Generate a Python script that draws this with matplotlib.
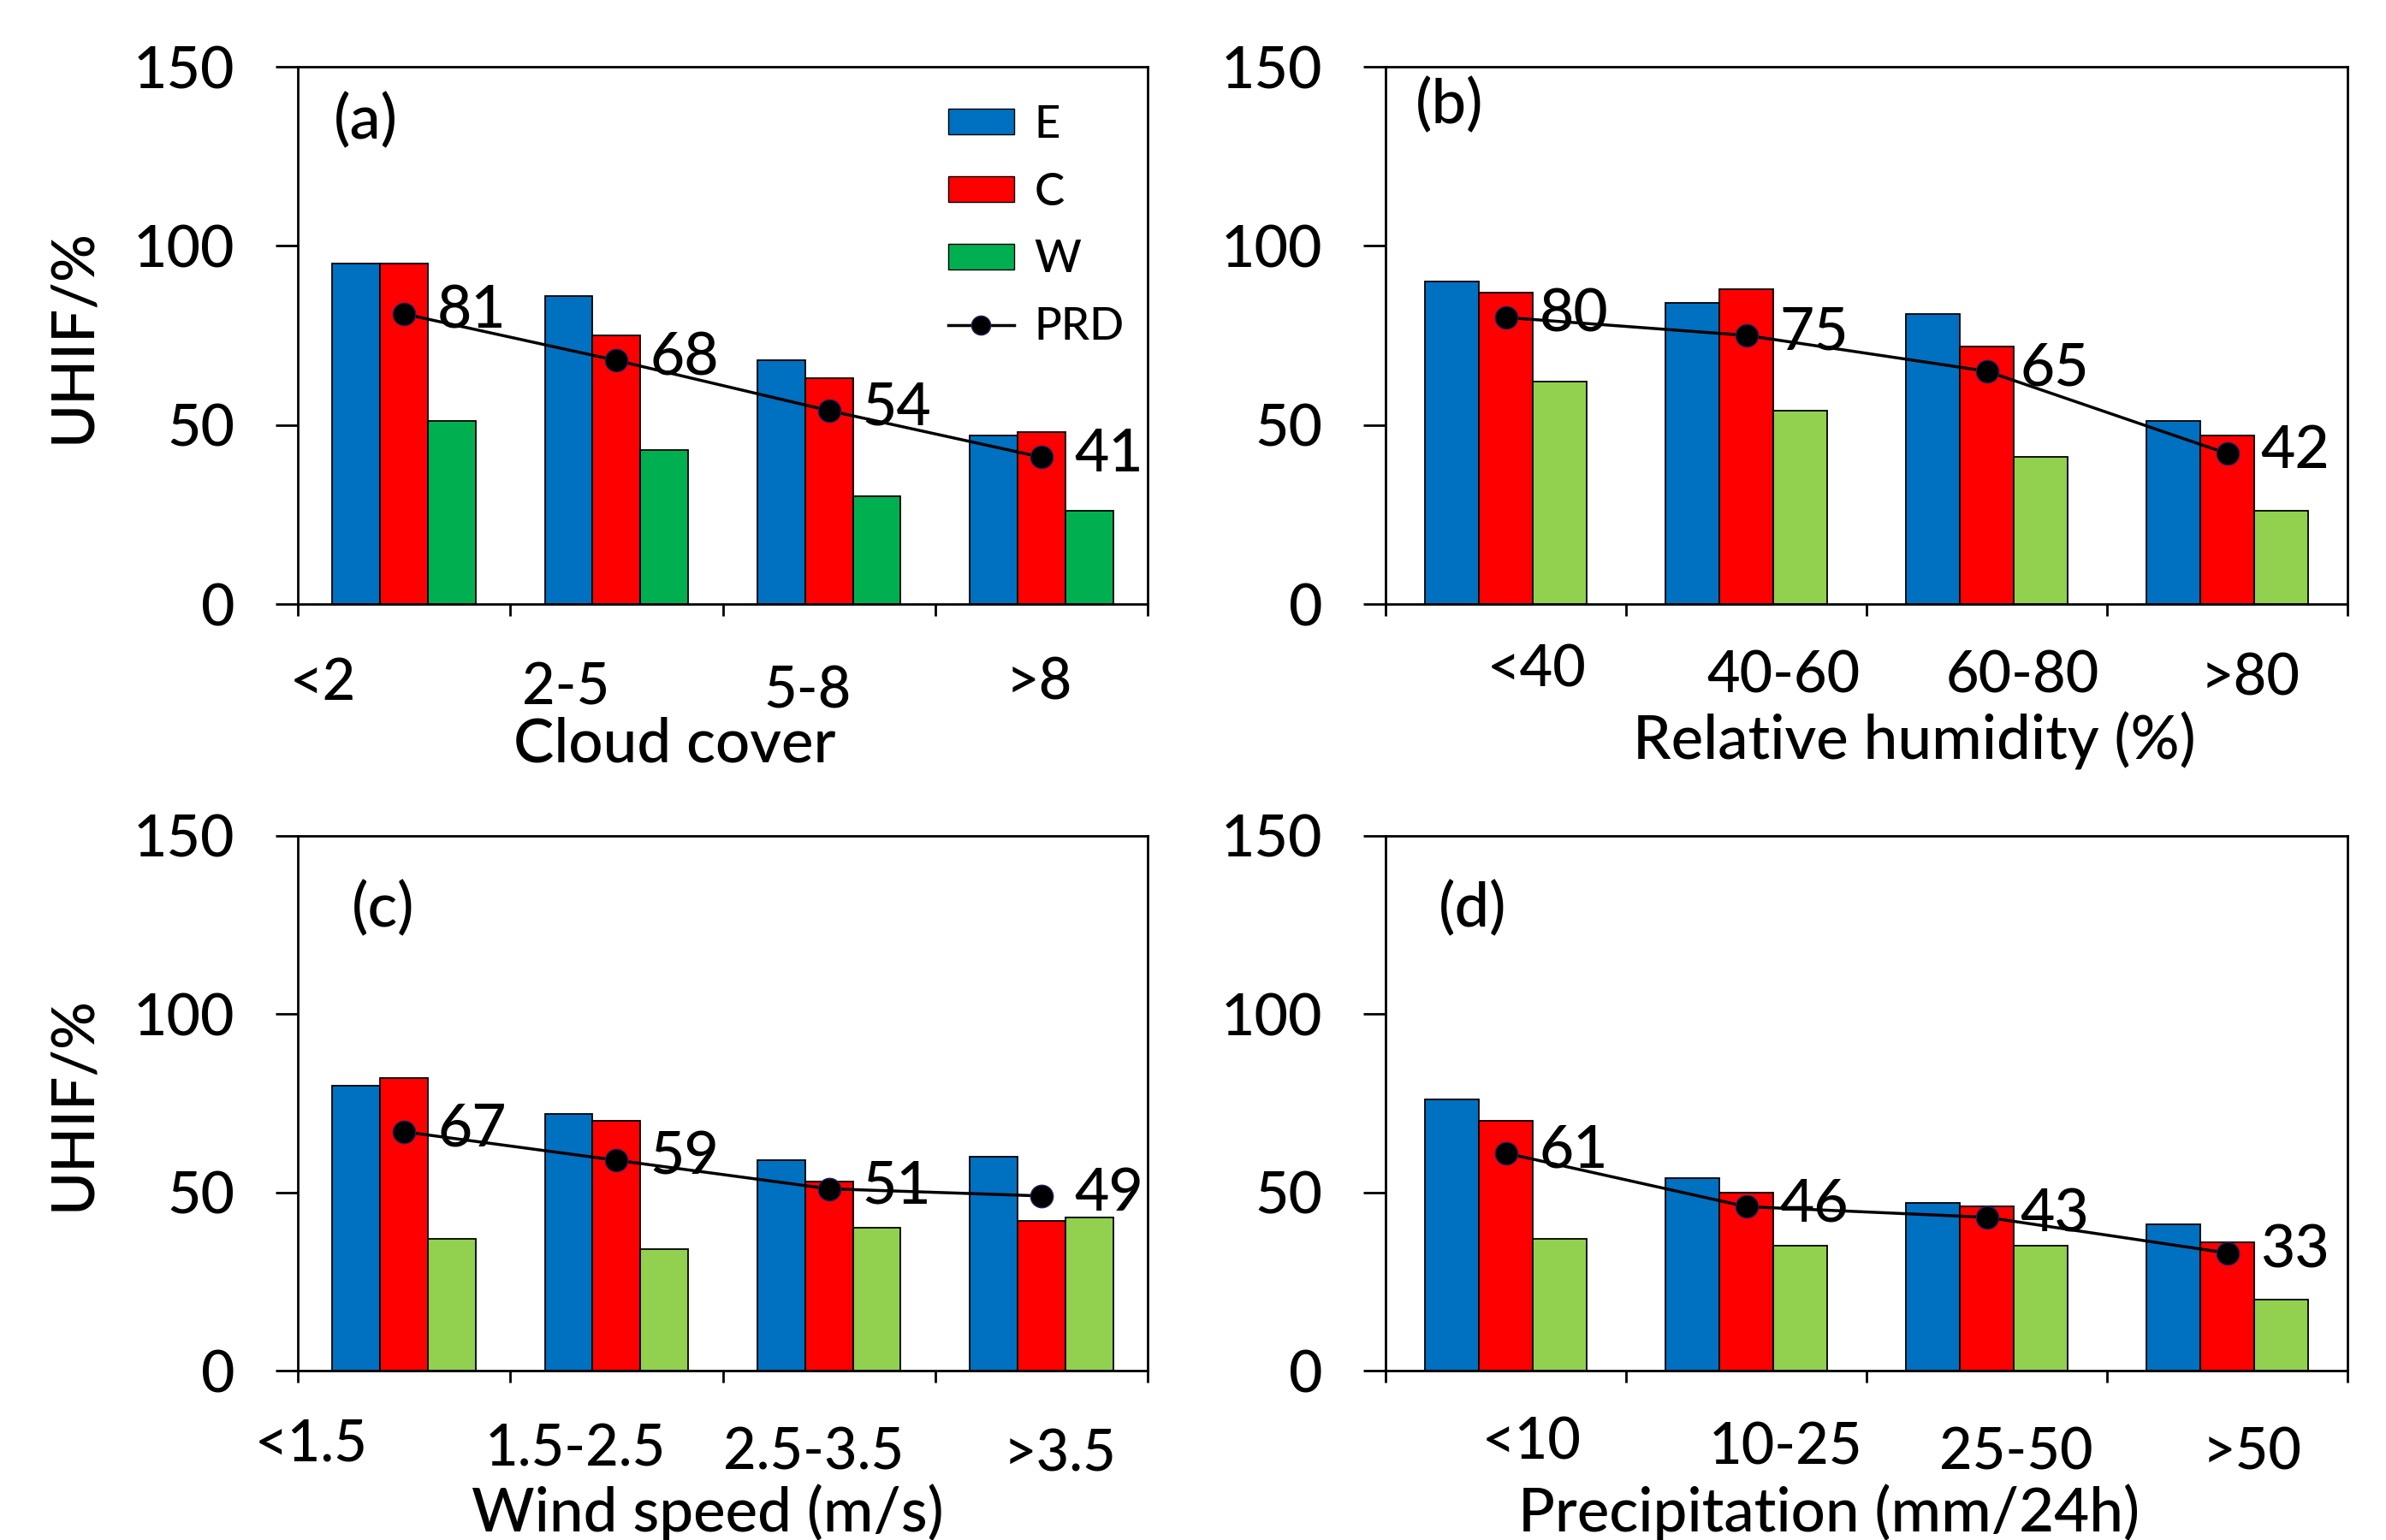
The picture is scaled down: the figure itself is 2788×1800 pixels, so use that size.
import numpy as np
import matplotlib
matplotlib.use("Agg")
from matplotlib import pyplot as plt
from matplotlib.patches import Patch
from matplotlib.lines import Line2D

plt.rcParams['font.family'] = ['Lato', 'DejaVu Sans']
plt.rcParams['font.weight'] = 500

W, H = 2788, 1800

# data
cats_a = ["<2", "2-5", "5-8", ">8"]
e_a = [95, 86, 68, 47]
c_a = [95, 75, 63, 48]
w_a = [51, 43, 30, 26]
prd_a = [81, 68, 54, 41]

cats_b = ["<40", "40-60", "60-80", ">80"]
e_b = [90, 84, 81, 51]
c_b = [87, 88, 72, 47]
w_b = [62, 54, 41, 26]
prd_b = [80, 75, 65, 42]

cats_c = ["<1.5", "1.5-2.5", "2.5-3.5", ">3.5"]
e_c = [80, 72, 59, 60]
c_c = [82, 70, 53, 42]
w_c = [37, 34, 40, 43]
prd_c = [67, 59, 51, 49]

cats_d = ["<10", "10-25", "25-50", ">50"]
e_d = [76, 54, 47, 41]
c_d = [70, 50, 46, 36]
w_d = [37, 35, 35, 20]
prd_d = [61, 46, 43, 33]

blue = "#0070C0"
red = "#FF0000"
green_dark = "#00B050"
green_light = "#92D050"


def px_rect(x0, y0, x1, y1):
    return [x0 / W, 1 - y1 / H, (x1 - x0) / W, (y1 - y0) / H]


def fpos(x, y):
    return x / W, 1 - y / H


# layout of each panel (pixel boxes and hand placed labels, as in the original)
panels = [
    dict(box=(348, 78, 1341, 706), cats=cats_a, e=e_a, c=c_a, w=w_a, prd=prd_a,
         green=green_dark, xlabel="Cloud cover", xlabel_pos=(788, 871), tag="(a)", tag_pos=(427, 142),
         cat_pos=[(377, 799), (661, 804), (944, 808), (1214, 799)], ylabel=True),
    dict(box=(1619, 78, 2743, 706), cats=cats_b, e=e_b, c=c_b, w=w_b, prd=prd_b,
         green=green_light, xlabel="Relative humidity (%)", xlabel_pos=(2237, 866), tag="(b)", tag_pos=(1694, 124),
         cat_pos=[(1796, 784), (2084, 790), (2363, 790), (2630, 793)], ylabel=False),
    dict(box=(348, 977, 1341, 1602), cats=cats_c, e=e_c, c=c_c, w=w_c, prd=prd_c,
         green=green_light, xlabel="Wind speed (m/s)", xlabel_pos=(827, 1769), tag="(c)", tag_pos=(448, 1063),
         cat_pos=[(364, 1689), (672, 1694), (951, 1698), (1239, 1701)], ylabel=True),
    dict(box=(1619, 977, 2743, 1602), cats=cats_d, e=e_d, c=c_d, w=w_d, prd=prd_d,
         green=green_light, xlabel="Precipitation (mm/24h)", xlabel_pos=(2137, 1769), tag="(d)", tag_pos=(1721, 1063),
         cat_pos=[(1790, 1686), (2086, 1693), (2356, 1698), (2632, 1698)], ylabel=False),
]

fig = plt.figure(figsize=(W / 100, H / 100), dpi=100)

bw = 0.225
for p in panels:
    ax = fig.add_axes(px_rect(*p["box"]))
    x = np.arange(len(p["cats"]))
    kw = dict(width=bw, edgecolor="black", linewidth=1.3, zorder=2)
    ax.bar(x - bw, p["e"], color=blue, **kw)
    ax.bar(x, p["c"], color=red, **kw)
    ax.bar(x + bw, p["w"], color=p["green"], **kw)
    ax.plot(x, p["prd"], color="black", linewidth=2.5, marker="o", markersize=19,
            markerfacecolor="black", markeredgecolor="#2a1f5a", markeredgewidth=1, zorder=4)
    for xi, v in zip(x, p["prd"]):
        ax.annotate(str(v), (xi, v), xytext=(28, 2), textcoords="offset points",
                    va="center", ha="left", fontsize=50, zorder=5)

    ax.set_xlim(-0.5, len(x) - 0.5)
    ax.set_ylim(0, 150)
    ax.set_yticks([0, 50, 100, 150])
    ax.set_xticks(np.arange(len(x) + 1) - 0.5)
    ax.set_xticklabels([])
    ax.tick_params(axis="y", direction="out", length=19, width=2, labelsize=49, pad=34)
    ax.tick_params(axis="x", direction="out", length=10, width=2)
    for s in ax.spines.values():
        s.set_linewidth(2)

    for lab, (cx, cy) in zip(p["cats"], p["cat_pos"]):
        fig.text(*fpos(cx, cy), lab, ha="center", va="center", fontsize=48)
    fig.text(*fpos(*p["xlabel_pos"]), p["xlabel"], ha="center", va="center", fontsize=51)
    fig.text(*fpos(*p["tag_pos"]), p["tag"], ha="center", va="center", fontsize=52)
    if p["ylabel"]:
        cy = (p["box"][1] + p["box"][3]) / 2
        fig.text(*fpos(85, cy), "UHIF/%", rotation=90, ha="center", va="center", fontsize=50)

    if p["tag"] == "(a)":
        handles = [Patch(facecolor=blue, edgecolor="black", linewidth=1),
                   Patch(facecolor=red, edgecolor="black", linewidth=1),
                   Patch(facecolor=green_dark, edgecolor="black", linewidth=1),
                   Line2D([], [], color="black", linewidth=2.5, marker="o", markersize=16,
                          markerfacecolor="black", markeredgecolor="#2a1f5a")]
        fig.legend(handles, ["E", "C", "W", "PRD"], loc="upper left",
                   bbox_to_anchor=fpos(1108, 123), bbox_transform=fig.transFigure,
                   frameon=False, fontsize=38, handlelength=1.45, handleheight=0.5,
                   handletextpad=0.45, labelspacing=0.6, borderpad=0, borderaxespad=0)

fig.savefig("out.png", dpi=100)
